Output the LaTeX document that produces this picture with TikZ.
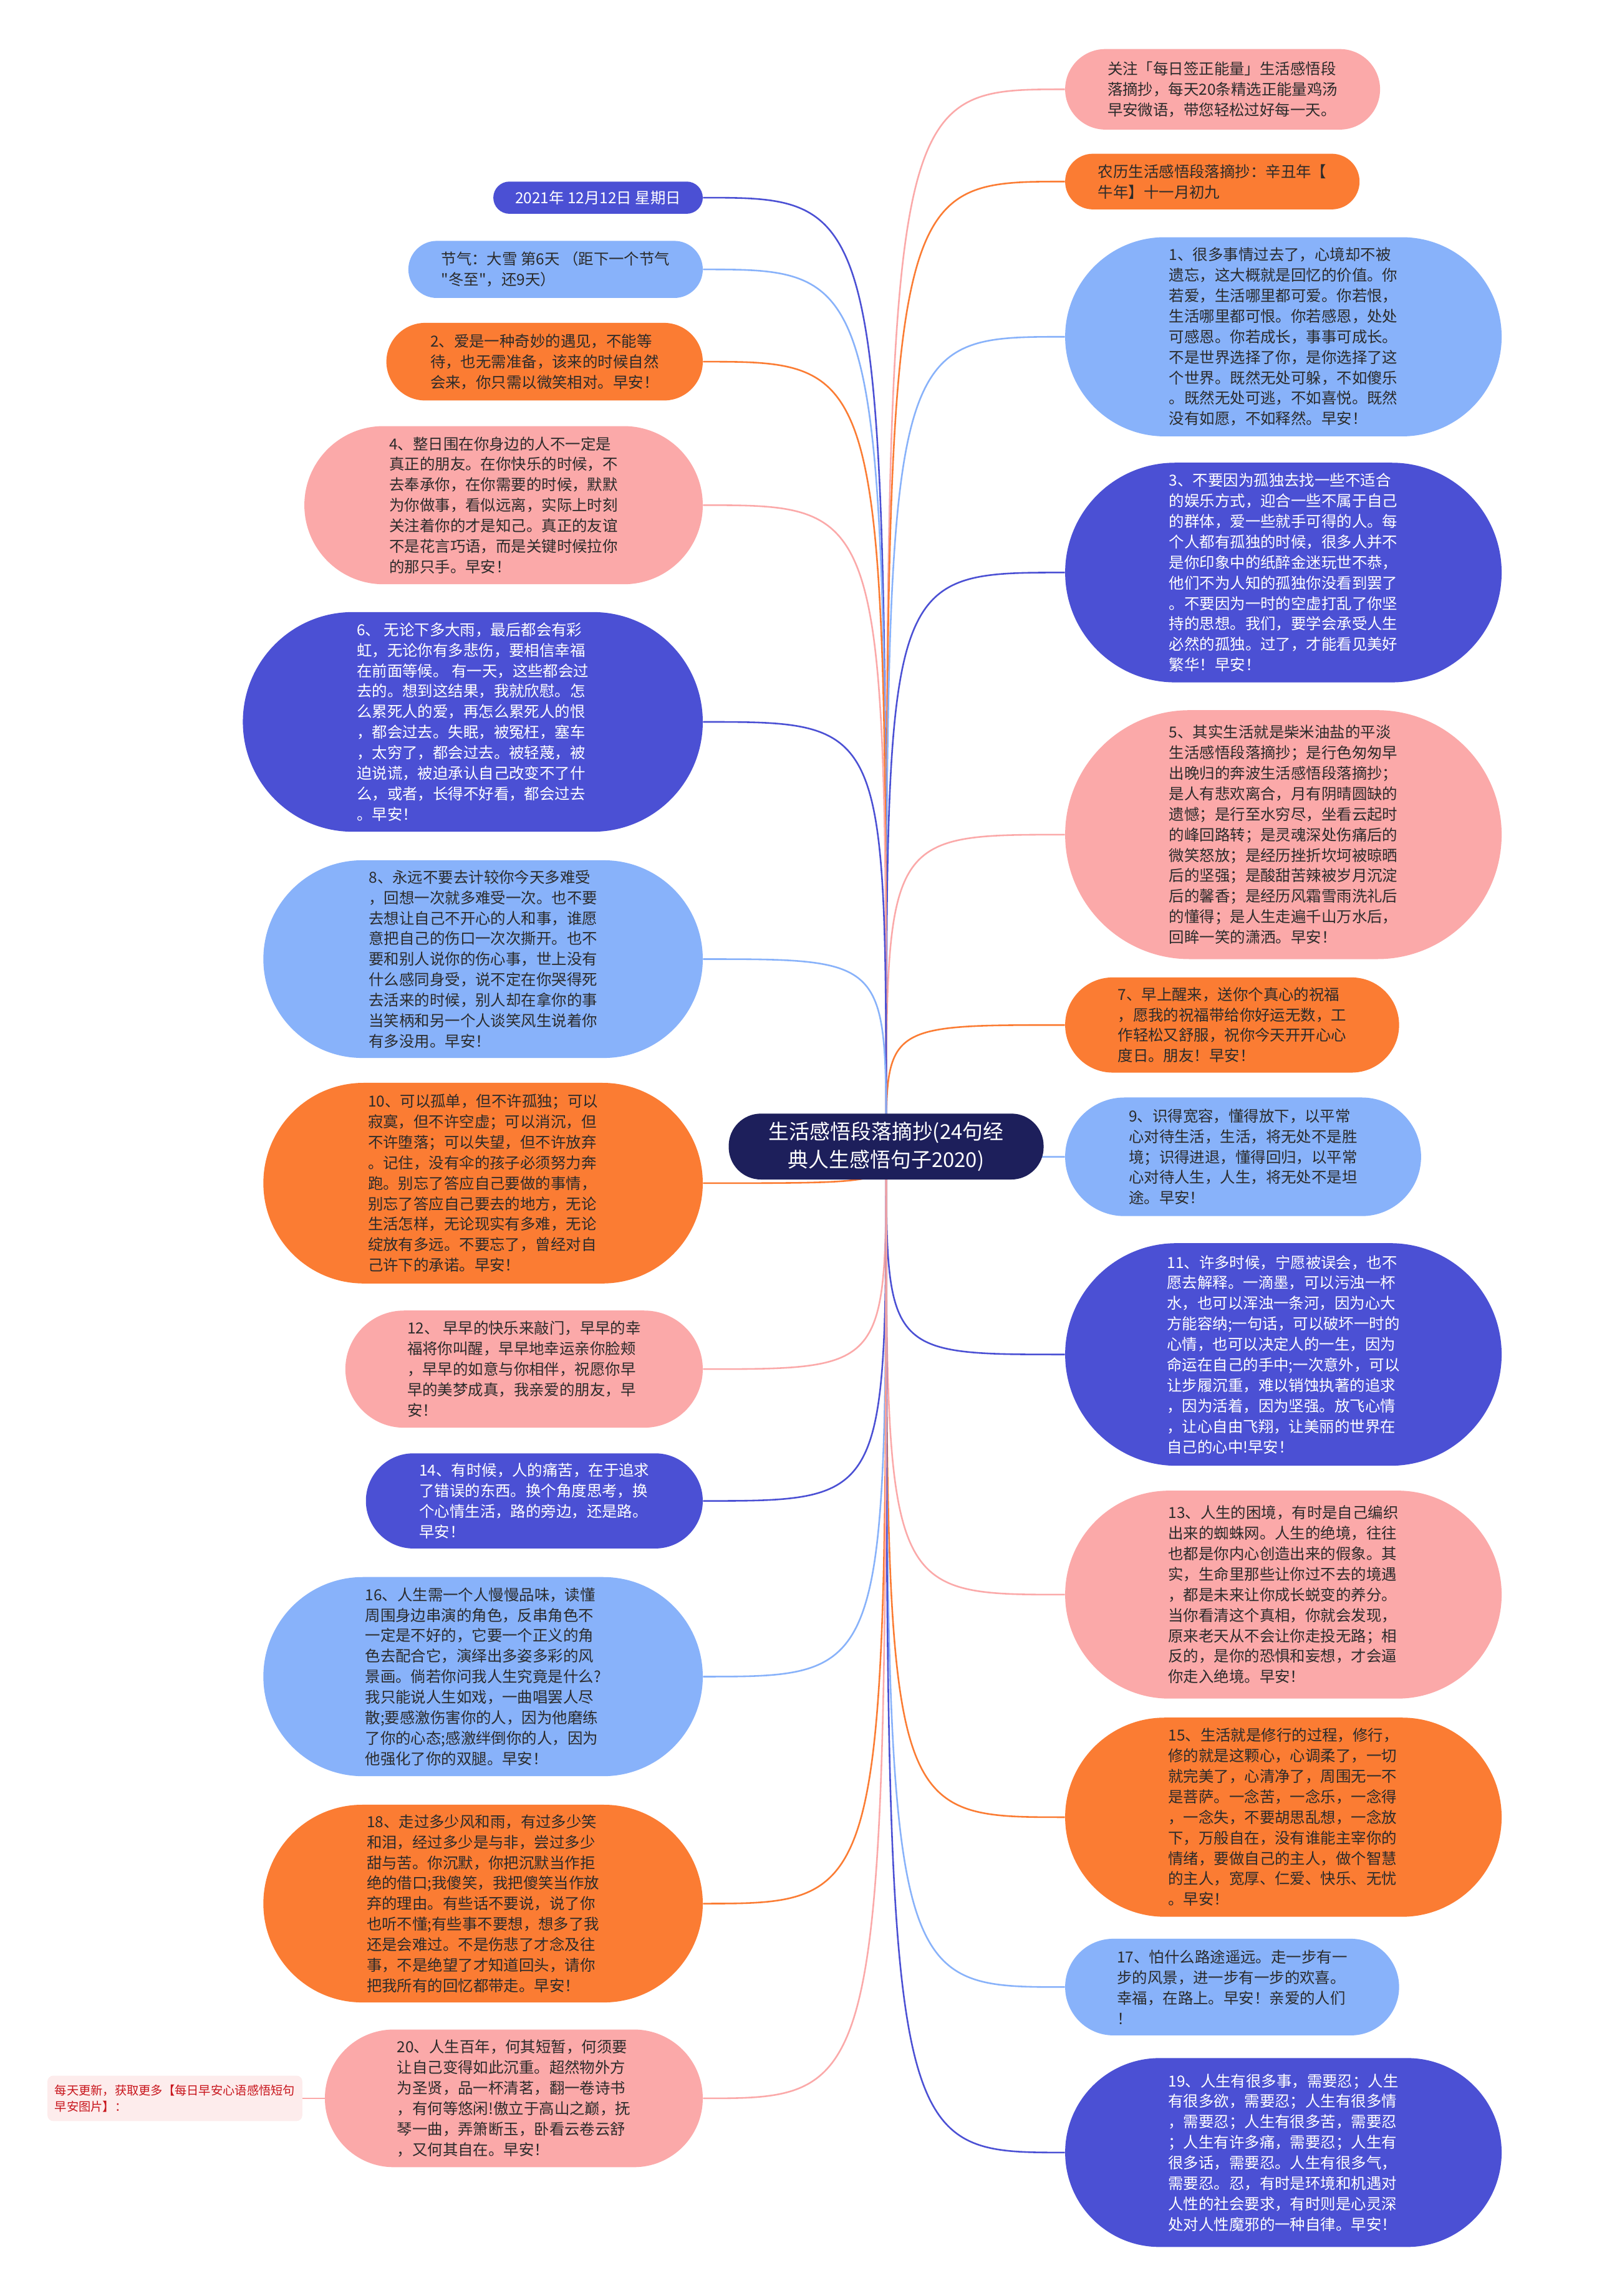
\documentclass[tikz,border=0pt]{standalone}
\usepackage{fontspec}
\usepackage{xcolor}
\usetikzlibrary{positioning, backgrounds}
\newfontfamily\cjk{Noto Sans CJK SC}
\definecolor{sgnavy}{HTML}{1D1F5B}
\definecolor{sgblue}{HTML}{4B50D4}
\definecolor{sgsky}{HTML}{88B2FA}
\definecolor{sgorange}{HTML}{FB7C33}
\definecolor{sgpink}{HTML}{FBA9A9}
\definecolor{sgink}{HTML}{2B2B2B}
\definecolor{sgnote}{HTML}{FDECEC}
\definecolor{sgred}{HTML}{C8161D}

\begin{document}
\begin{tikzpicture}[
  x=1pt, y=-1pt,
  every node/.style={font=\cjk\fontsize{10.4}{14}\selectfont},
  bub/.style={rectangle, fill=#1, inner sep=0pt, align=left, text=sgink},
  inv/.style={bub=#1, text=white},
  wh/.style 2 args={minimum width=#1pt, minimum height=#2pt, rounded corners=#2pt/2},
  link/.style={line width=1.1pt, draw=#1},
]
\useasboundingbox (0,0) rectangle (1090,1568);

\node[inv=sgnavy, minimum width=215pt, minimum height=45pt, rounded corners=22pt, align=center,
  font=\cjk\fontsize{14}{19}\selectfont] (root) at (605,783) {生活感悟段落摘抄(24句经\\典人生感悟句子2020)};

% right column
\node[bub=sgpink, wh={215}{55}, anchor=west] (follow) at (727,61) {关注「每日签正能量」生活感悟段\\落摘抄，每天20条精选正能量鸡汤\\早安微语，带您轻松过好每一天。};
\node[bub=sgorange, wh={201}{38}, anchor=west] (lunar) at (727,124) {农历生活感悟段落摘抄：辛丑年【\\牛年】十一月初九};
\node[bub=sgsky, wh={298}{136}, anchor=west] (q1) at (727,230) {1、很多事情过去了，心境却不被\\遗忘，这大概就是回忆的价值。你\\若爱，生活哪里都可爱。你若恨，\\生活哪里都可恨。你若感恩，处处\\可感恩。你若成长，事事可成长。\\不是世界选择了你，是你选择了这\\个世界。既然无处可躲，不如傻乐\\。既然无处可逃，不如喜悦。既然\\没有如愿，不如释然。早安！};
\node[inv=sgblue, wh={298}{150}, anchor=west] (q3) at (727,391) {3、不要因为孤独去找一些不适合\\的娱乐方式，迎合一些不属于自己\\的群体，爱一些就手可得的人。每\\个人都有孤独的时候，很多人并不\\是你印象中的纸醉金迷玩世不恭，\\他们不为人知的孤独你没看到罢了\\。不要因为一时的空虚打乱了你坚\\持的思想。我们，要学会承受人生\\必然的孤独。过了，才能看见美好\\繁华！早安！};
\node[bub=sgpink, wh={298}{170}, anchor=west] (q5) at (727,570) {5、其实生活就是柴米油盐的平淡\\生活感悟段落摘抄；是行色匆匆早\\出晚归的奔波生活感悟段落摘抄；\\是人有悲欢离合，月有阴晴圆缺的\\遗憾；是行至水穷尽，坐看云起时\\的峰回路转；是灵魂深处伤痛后的\\微笑怒放；是经历挫折坎坷被晾晒\\后的坚强；是酸甜苦辣被岁月沉淀\\后的馨香；是经历风霜雪雨洗礼后\\的懂得；是人生走遍千山万水后，\\回眸一笑的潇洒。早安！};
\node[bub=sgorange, wh={228}{65}, anchor=west] (q7) at (727,700) {7、早上醒来，送你个真心的祝福\\，愿我的祝福带给你好运无数，工\\作轻松又舒服，祝你今天开开心心\\度日。朋友！早安！};
\node[bub=sgsky, wh={243}{81}, anchor=west] (q9) at (727,790) {9、识得宽容，懂得放下，以平常\\心对待生活，生活，将无处不是胜\\境；识得进退，懂得回归，以平常\\心对待人生，人生，将无处不是坦\\途。早安！};
\node[inv=sgblue, wh={298}{152}, anchor=west] (q11) at (727,925) {11、许多时候，宁愿被误会，也不\\愿去解释。一滴墨，可以污浊一杯\\水，也可以浑浊一条河，因为心大\\方能容纳;一句话，可以破坏一时的\\心情，也可以决定人的一生，因为\\命运在自己的手中;一次意外，可以\\让步履沉重，难以销蚀执著的追求\\，因为活着，因为坚强。放飞心情\\，让心自由飞翔，让美丽的世界在\\自己的心中!早安！};
\node[bub=sgpink, wh={298}{142}, anchor=west] (q13) at (727,1089) {13、人生的困境，有时是自己编织\\出来的蜘蛛网。人生的绝境，往往\\也都是你内心创造出来的假象。其\\实，生命里那些让你过不去的境遇\\，都是未来让你成长蜕变的养分。\\当你看清这个真相，你就会发现，\\原来老天从不会让你走投无路；相\\反的，是你的恐惧和妄想，才会逼\\你走入绝境。早安！};
\node[bub=sgorange, wh={298}{136}, anchor=west] (q15) at (727,1241) {15、生活就是修行的过程，修行，\\修的就是这颗心，心调柔了，一切\\就完美了，心清净了，周围无一不\\是菩萨。一念苦，一念乐，一念得\\，一念失，不要胡思乱想，一念放\\下，万般自在，没有谁能主宰你的\\情绪，要做自己的主人，做个智慧\\的主人，宽厚、仁爱、快乐、无忧\\。早安！};
\node[bub=sgsky, wh={228}{66}, anchor=west] (q17) at (727,1357) {17、怕什么路途遥远。走一步有一\\步的风景，进一步有一步的欢喜。\\幸福，在路上。早安！亲爱的人们\\！};
\node[inv=sgblue, wh={298}{129}, anchor=west] (q19) at (727,1470) {19、人生有很多事，需要忍；人生\\有很多欲，需要忍；人生有很多情\\，需要忍；人生有很多苦，需要忍\\；人生有许多痛，需要忍；人生有\\很多话，需要忍。人生有很多气，\\需要忍。忍，有时是环境和机遇对\\人性的社会要求，有时则是心灵深\\处对人性魔邪的一种自律。早安！};

% left column
\node[inv=sgblue, wh={143}{22}, anchor=east] (date) at (480,135) {2021年 12月12日 星期日};
\node[bub=sgsky, wh={201}{39}, anchor=east] (term) at (480,184) {节气：大雪 第6天 （距下一个节气\\"冬至"，还9天）};
\node[bub=sgorange, wh={216}{53}, anchor=east] (q2) at (480,247) {2、爱是一种奇妙的遇见，不能等\\待，也无需准备，该来的时候自然\\会来，你只需以微笑相对。早安！};
\node[bub=sgpink, wh={272}{108}, anchor=east] (q4) at (480,345) {4、整日围在你身边的人不一定是\\真正的朋友。在你快乐的时候，不\\去奉承你，在你需要的时候，默默\\为你做事，看似远离，实际上时刻\\关注着你的才是知己。真正的友谊\\不是花言巧语，而是关键时候拉你\\的那只手。早安！};
\node[inv=sgblue, wh={314}{150}, anchor=east] (q6) at (480,493) {6、 无论下多大雨，最后都会有彩\\虹，无论你有多悲伤，要相信幸福\\在前面等候。 有一天，这些都会过\\去的。想到这结果，我就欣慰。怎\\么累死人的爱，再怎么累死人的恨\\，都会过去。失眠，被冤枉，塞车\\，太穷了，都会过去。被轻蔑，被\\迫说谎，被迫承认自己改变不了什\\么，或者，长得不好看，都会过去\\。早安！};
\node[bub=sgsky, wh={300}{135}, anchor=east] (q8) at (480,655) {8、永远不要去计较你今天多难受\\，回想一次就多难受一次。也不要\\去想让自己不开心的人和事，谁愿\\意把自己的伤口一次次撕开。也不\\要和别人说你的伤心事，世上没有\\什么感同身受，说不定在你哭得死\\去活来的时候，别人却在拿你的事\\当笑柄和另一个人谈笑风生说着你\\有多没用。早安！};
\node[bub=sgorange, wh={300}{137}, anchor=east] (q10) at (480,808) {10、可以孤单，但不许孤独；可以\\寂寞，但不许空虚；可以消沉，但\\不许堕落；可以失望，但不许放弃\\。记住，没有伞的孩子必须努力奔\\跑。别忘了答应自己要做的事情，\\别忘了答应自己要去的地方，无论\\生活怎样，无论现实有多难，无论\\绽放有多远。不要忘了，曾经对自\\己许下的承诺。早安！};
\node[bub=sgpink, wh={244}{80}, anchor=east] (q12) at (480,935) {12、 早早的快乐来敲门，早早的幸\\福将你叫醒，早早地幸运亲你脸颊\\，早早的如意与你相伴，祝愿你早\\早的美梦成真，我亲爱的朋友，早\\安！};
\node[inv=sgblue, wh={230}{65}, anchor=east] (q14) at (480,1025) {14、有时候，人的痛苦，在于追求\\了错误的东西。换个角度思考，换\\个心情生活，路的旁边，还是路。\\早安！};
\node[bub=sgsky, wh={300}{136}, anchor=east] (q16) at (480,1145) {16、人生需一个人慢慢品味，读懂\\周围身边串演的角色，反串角色不\\一定是不好的，它要一个正义的角\\色去配合它，演绎出多姿多彩的风\\景画。倘若你问我人生究竟是什么?\\我只能说人生如戏，一曲唱罢人尽\\散;要感激伤害你的人，因为他磨练\\了你的心态;感激绊倒你的人，因为\\他强化了你的双腿。早安！};
\node[bub=sgorange, wh={300}{135}, anchor=east] (q18) at (480,1300) {18、走过多少风和雨，有过多少笑\\和泪，经过多少是与非，尝过多少\\甜与苦。你沉默，你把沉默当作拒\\绝的借口;我傻笑，我把傻笑当作放\\弃的理由。有些话不要说，说了你\\也听不懂;有些事不要想，想多了我\\还是会难过。不是伤悲了才念及往\\事，不是绝望了才知道回头，请你\\把我所有的回忆都带走。早安！};
\node[bub=sgpink, wh={258}{94}, anchor=east] (q20) at (480,1433) {20、人生百年，何其短暂，何须要\\让自己变得如此沉重。超然物外方\\为圣贤，品一杯清茗，翻一卷诗书\\，有何等悠闲!傲立于高山之巅，抚\\琴一曲，弄箫断玉，卧看云卷云舒\\，又何其自在。早安！};
\node[bub=sgnote, text=sgred, minimum width=174pt, minimum height=31pt, rounded corners=4pt,
  font=\cjk\fontsize{8.2}{11}\selectfont, left=15pt of q20] (tip) {每天更新，获取更多【每日早安心语感悟短句\\早安图片】：};

\begin{scope}[on background layer]
\fill[white] (0,0) rectangle (1090,1568);
\draw[link=sgpink] (root.center) .. controls (root.center |- follow.west) .. (follow.west);
\draw[link=sgorange] (root.center) .. controls (root.center |- lunar.west) .. (lunar.west);
\draw[link=sgsky] (root.center) .. controls (root.center |- q1.west) .. (q1.west);
\draw[link=sgblue] (root.center) .. controls (root.center |- q3.west) .. (q3.west);
\draw[link=sgpink] (root.center) .. controls (root.center |- q5.west) .. (q5.west);
\draw[link=sgorange] (root.center) .. controls (root.center |- q7.west) .. (q7.west);
\draw[link=sgsky] (root.center) .. controls (root.center |- q9.west) .. (q9.west);
\draw[link=sgblue] (root.center) .. controls (root.center |- q11.west) .. (q11.west);
\draw[link=sgpink] (root.center) .. controls (root.center |- q13.west) .. (q13.west);
\draw[link=sgorange] (root.center) .. controls (root.center |- q15.west) .. (q15.west);
\draw[link=sgsky] (root.center) .. controls (root.center |- q17.west) .. (q17.west);
\draw[link=sgblue] (root.center) .. controls (root.center |- q19.west) .. (q19.west);
\draw[link=sgblue] (root.center) .. controls (root.center |- date.east) .. (date.east);
\draw[link=sgsky] (root.center) .. controls (root.center |- term.east) .. (term.east);
\draw[link=sgorange] (root.center) .. controls (root.center |- q2.east) .. (q2.east);
\draw[link=sgpink] (root.center) .. controls (root.center |- q4.east) .. (q4.east);
\draw[link=sgblue] (root.center) .. controls (root.center |- q6.east) .. (q6.east);
\draw[link=sgsky] (root.center) .. controls (root.center |- q8.east) .. (q8.east);
\draw[link=sgorange] (root.center) .. controls (root.center |- q10.east) .. (q10.east);
\draw[link=sgpink] (root.center) .. controls (root.center |- q12.east) .. (q12.east);
\draw[link=sgblue] (root.center) .. controls (root.center |- q14.east) .. (q14.east);
\draw[link=sgsky] (root.center) .. controls (root.center |- q16.east) .. (q16.east);
\draw[link=sgorange] (root.center) .. controls (root.center |- q18.east) .. (q18.east);
\draw[link=sgpink] (root.center) .. controls (root.center |- q20.east) .. (q20.east);
\draw[link=sgpink] (q20.west) -- (tip.east);
\end{scope}
\end{tikzpicture}
\end{document}
